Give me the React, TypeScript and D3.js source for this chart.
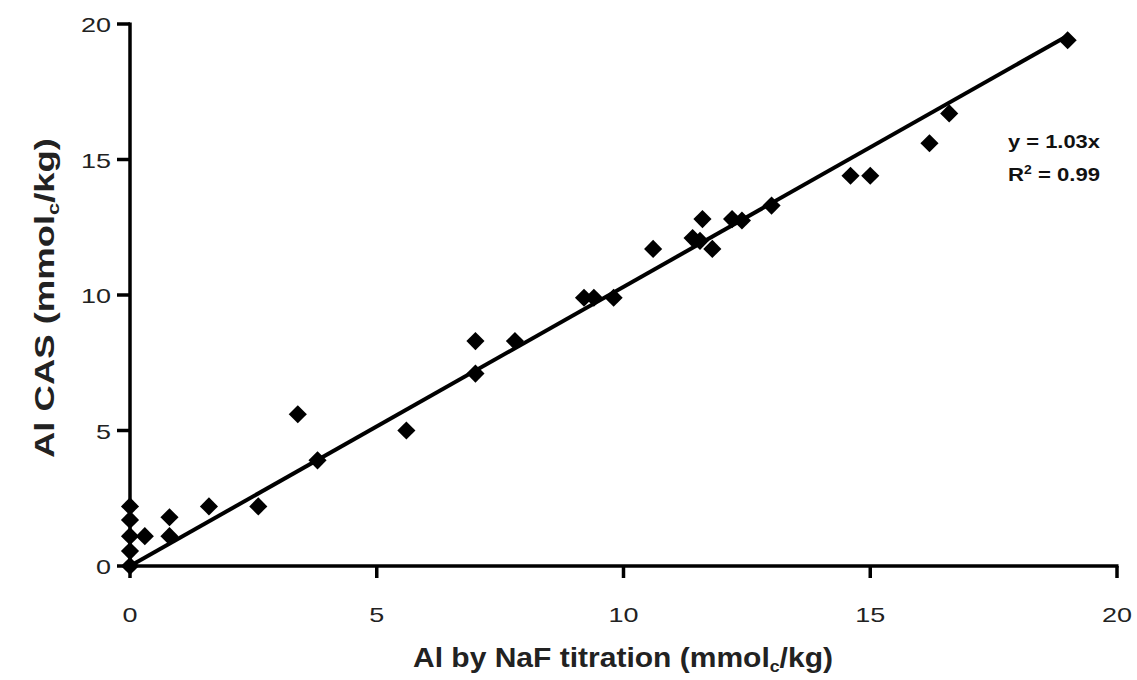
import React from "react";
import * as d3 from "d3";

const naf: number[] = [0, 0, 0, 0, 0, 0.3, 0.8, 0.8, 1.6, 2.6, 3.4, 3.8, 5.6, 7.0, 7.0, 7.8, 9.2, 9.4, 9.8, 10.6, 11.4, 11.55, 11.6, 11.8, 12.2, 12.4, 13.0, 14.6, 15.0, 16.2, 16.6, 19.0];
const cas: number[] = [0, 0.55, 1.1, 1.7, 2.2, 1.1, 1.8, 1.1, 2.2, 2.2, 5.6, 3.9, 5.0, 8.3, 7.1, 8.3, 9.9, 9.9, 9.9, 11.7, 12.1, 12.0, 12.8, 11.7, 12.8, 12.75, 13.3, 14.4, 14.4, 15.6, 16.7, 19.4];
const slope = 1.03;
const trendRange: number[] = [0, 19];
const xTicks: number[] = [0, 5, 10, 15, 20];
const yTicks: number[] = [0, 5, 10, 15, 20];
const eqLabel = "y = 1.03x";
const r2Value = "0.99";

const W = 1137;
const H = 680;

export default function App() {
  const x = d3.scaleLinear().domain([0, 20]).range([130, 1117]);
  const y = d3.scaleLinear().domain([0, 20]).range([566, 24]);
  const line = d3
    .line<number>()
    .x((d) => x(d))
    .y((d) => y(slope * d));
  const diamond = d3.symbol().type(d3.symbolDiamond2).size(210)();
  const font = "'Liberation Sans', Arial, sans-serif";
  const digitW = 15;

  return (
    <svg
      width={W}
      height={H}
      style={{ position: "absolute", left: 0, top: 0, background: "#fff" }}
    >
      {/* trend line */}
      <path d={line(trendRange) || ""} fill="none" stroke="#000" strokeWidth={4} />
      {/* points */}
      {naf.map((v, i) => (
        <path
          key={i}
          d={diamond || ""}
          transform={`translate(${x(v)},${y(cas[i])})`}
          fill="#000"
        />
      ))}
      {/* axes */}
      <line x1={x(0)} x2={x(0)} y1={y(20) - 1.5} y2={y(0) + 1.5} stroke="#000" strokeWidth={3.5} />
      <line x1={x(0) - 1.5} x2={x(20) + 1.5} y1={y(0)} y2={y(0)} stroke="#000" strokeWidth={3.5} />
      {yTicks.map((t) => (
        <g key={"y" + t}>
          <line x1={x(0) - 13} x2={x(0)} y1={y(t)} y2={y(t)} stroke="#000" strokeWidth={3.5} />
          <text
            x={111}
            y={y(t) + 8}
            textAnchor="end"
            fontFamily={font}
            fontSize={21}
            fill="#222"
            textLength={String(t).length * digitW}
            lengthAdjust="spacingAndGlyphs"
          >
            {t}
          </text>
        </g>
      ))}
      {xTicks.map((t) => (
        <g key={"x" + t}>
          <line x1={x(t)} x2={x(t)} y1={y(0)} y2={y(0) + 12} stroke="#000" strokeWidth={3.5} />
          <text
            x={x(t)}
            y={622}
            textAnchor="middle"
            fontFamily={font}
            fontSize={21}
            fill="#222"
            textLength={String(t).length * digitW}
            lengthAdjust="spacingAndGlyphs"
          >
            {t}
          </text>
        </g>
      ))}
      {/* axis titles */}
      <text
        x={623}
        y={667}
        textAnchor="middle"
        fontFamily={font}
        fontWeight="bold"
        fontSize={27}
        fill="#222"
        textLength={420}
        lengthAdjust="spacingAndGlyphs"
      >
        Al by NaF titration (mmol
        <tspan dy={5} fontSize={16}>c</tspan>
        <tspan dy={-5}>/kg)</tspan>
      </text>
      <text
        transform={`translate(54,298) rotate(-90)`}
        textAnchor="middle"
        fontFamily={font}
        fontWeight="bold"
        fontSize={27}
        fill="#222"
        textLength={320}
        lengthAdjust="spacingAndGlyphs"
      >
        Al CAS (mmol
        <tspan dy={5} fontSize={16}>c</tspan>
        <tspan dy={-5}>/kg)</tspan>
      </text>
      {/* equation */}
      <text
        x={1008}
        y={148}
        fontFamily={font}
        fontWeight="bold"
        fontSize={19}
        fill="#111"
        textLength={92}
        lengthAdjust="spacingAndGlyphs"
      >
        {eqLabel}
      </text>
      <text
        x={1008}
        y={181}
        fontFamily={font}
        fontWeight="bold"
        fontSize={19}
        fill="#111"
        textLength={92}
        lengthAdjust="spacingAndGlyphs"
      >
        R<tspan baselineShift="super" fontSize={12}>2</tspan> = {r2Value}
      </text>
    </svg>
  );
}
